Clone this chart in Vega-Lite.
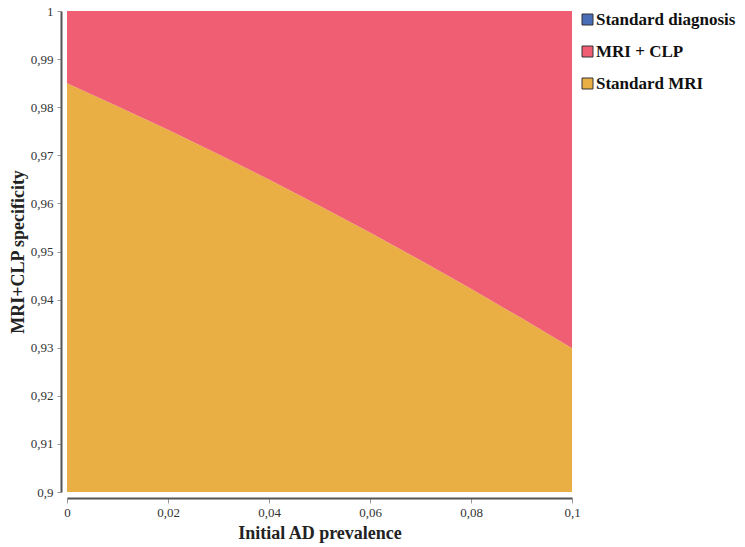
{
  "$schema": "https://vega.github.io/schema/vega-lite/v6.json",
  "width": 505,
  "height": 481,
  "autosize": "none",
  "padding": {"left": 67, "top": 11, "right": 173, "bottom": 55},
  "background": "white",
  "config": {
    "view": {"stroke": null},
    "font": "Liberation Serif"
  },
  "data": {
    "values": [
      {"prevalence": 0.00, "low": 0.9, "high": 0.98497, "region": "Standard MRI"},
      {"prevalence": 0.01, "low": 0.9, "high": 0.98022, "region": "Standard MRI"},
      {"prevalence": 0.02, "low": 0.9, "high": 0.97530, "region": "Standard MRI"},
      {"prevalence": 0.03, "low": 0.9, "high": 0.97021, "region": "Standard MRI"},
      {"prevalence": 0.04, "low": 0.9, "high": 0.96495, "region": "Standard MRI"},
      {"prevalence": 0.05, "low": 0.9, "high": 0.95953, "region": "Standard MRI"},
      {"prevalence": 0.06, "low": 0.9, "high": 0.95393, "region": "Standard MRI"},
      {"prevalence": 0.07, "low": 0.9, "high": 0.94817, "region": "Standard MRI"},
      {"prevalence": 0.08, "low": 0.9, "high": 0.94224, "region": "Standard MRI"},
      {"prevalence": 0.09, "low": 0.9, "high": 0.93615, "region": "Standard MRI"},
      {"prevalence": 0.10, "low": 0.9, "high": 0.92988, "region": "Standard MRI"},
      {"prevalence": 0.00, "low": 0.98497, "high": 1, "region": "MRI + CLP"},
      {"prevalence": 0.01, "low": 0.98022, "high": 1, "region": "MRI + CLP"},
      {"prevalence": 0.02, "low": 0.97530, "high": 1, "region": "MRI + CLP"},
      {"prevalence": 0.03, "low": 0.97021, "high": 1, "region": "MRI + CLP"},
      {"prevalence": 0.04, "low": 0.96495, "high": 1, "region": "MRI + CLP"},
      {"prevalence": 0.05, "low": 0.95953, "high": 1, "region": "MRI + CLP"},
      {"prevalence": 0.06, "low": 0.95393, "high": 1, "region": "MRI + CLP"},
      {"prevalence": 0.07, "low": 0.94817, "high": 1, "region": "MRI + CLP"},
      {"prevalence": 0.08, "low": 0.94224, "high": 1, "region": "MRI + CLP"},
      {"prevalence": 0.09, "low": 0.93615, "high": 1, "region": "MRI + CLP"},
      {"prevalence": 0.10, "low": 0.92988, "high": 1, "region": "MRI + CLP"}
    ]
  },
  "mark": {"type": "area", "opacity": 1, "stroke": null},
  "encoding": {
    "x": {
      "field": "prevalence",
      "type": "quantitative",
      "scale": {"domain": [0, 0.1], "nice": false},
      "axis": {
        "title": "Initial AD prevalence",
        "values": [0, 0.02, 0.04, 0.06, 0.08, 0.1],
        "format": "~g",
        "labelExpr": "replace(datum.label, '.', ',')",
        "labelFlush": false,
        "offset": 6,
        "grid": false,
        "domainColor": "#555",
        "domainWidth": 2,
        "tickColor": "#999",
        "tickSize": 5,
        "labelFontSize": 13,
        "labelColor": "#333",
        "labelPadding": 3,
        "titleFontSize": 18,
        "titleFontWeight": "bold",
        "titleColor": "#222",
        "titlePadding": 5
      }
    },
    "y": {
      "field": "low",
      "type": "quantitative",
      "scale": {"domain": [0.9, 1], "nice": false, "zero": false},
      "axis": {
        "title": "MRI+CLP specificity",
        "values": [0.9, 0.91, 0.92, 0.93, 0.94, 0.95, 0.96, 0.97, 0.98, 0.99, 1],
        "format": "~g",
        "labelExpr": "replace(datum.label, '.', ',')",
        "labelFlush": false,
        "offset": 6,
        "grid": false,
        "domainColor": "#555",
        "domainWidth": 2,
        "tickColor": "#999",
        "tickSize": 4,
        "labelFontSize": 13,
        "labelColor": "#333",
        "labelPadding": 4,
        "titleFontSize": 18,
        "titleFontWeight": "bold",
        "titleColor": "#222",
        "titlePadding": 3
      }
    },
    "y2": {"field": "high"},
    "color": {
      "field": "region",
      "type": "nominal",
      "scale": {
        "domain": ["Standard diagnosis", "MRI + CLP", "Standard MRI"],
        "range": ["#4A6DB8", "#F05E73", "#E9AF44"]
      },
      "legend": {
        "title": null,
        "orient": "none",
        "legendX": 512,
        "legendY": 0,
        "symbolType": "square",
        "symbolSize": 121,
        "symbolStrokeColor": "#333",
        "symbolStrokeWidth": 1,
        "symbolOpacity": 1,
        "labelFont": "Liberation Serif",
        "labelFontSize": 17,
        "labelFontWeight": "bold",
        "labelColor": "#111",
        "labelOffset": 0,
        "labelLimit": 300,
        "rowPadding": 14,
        "padding": 0
      }
    },
    "order": {"field": "region"}
  }
}
